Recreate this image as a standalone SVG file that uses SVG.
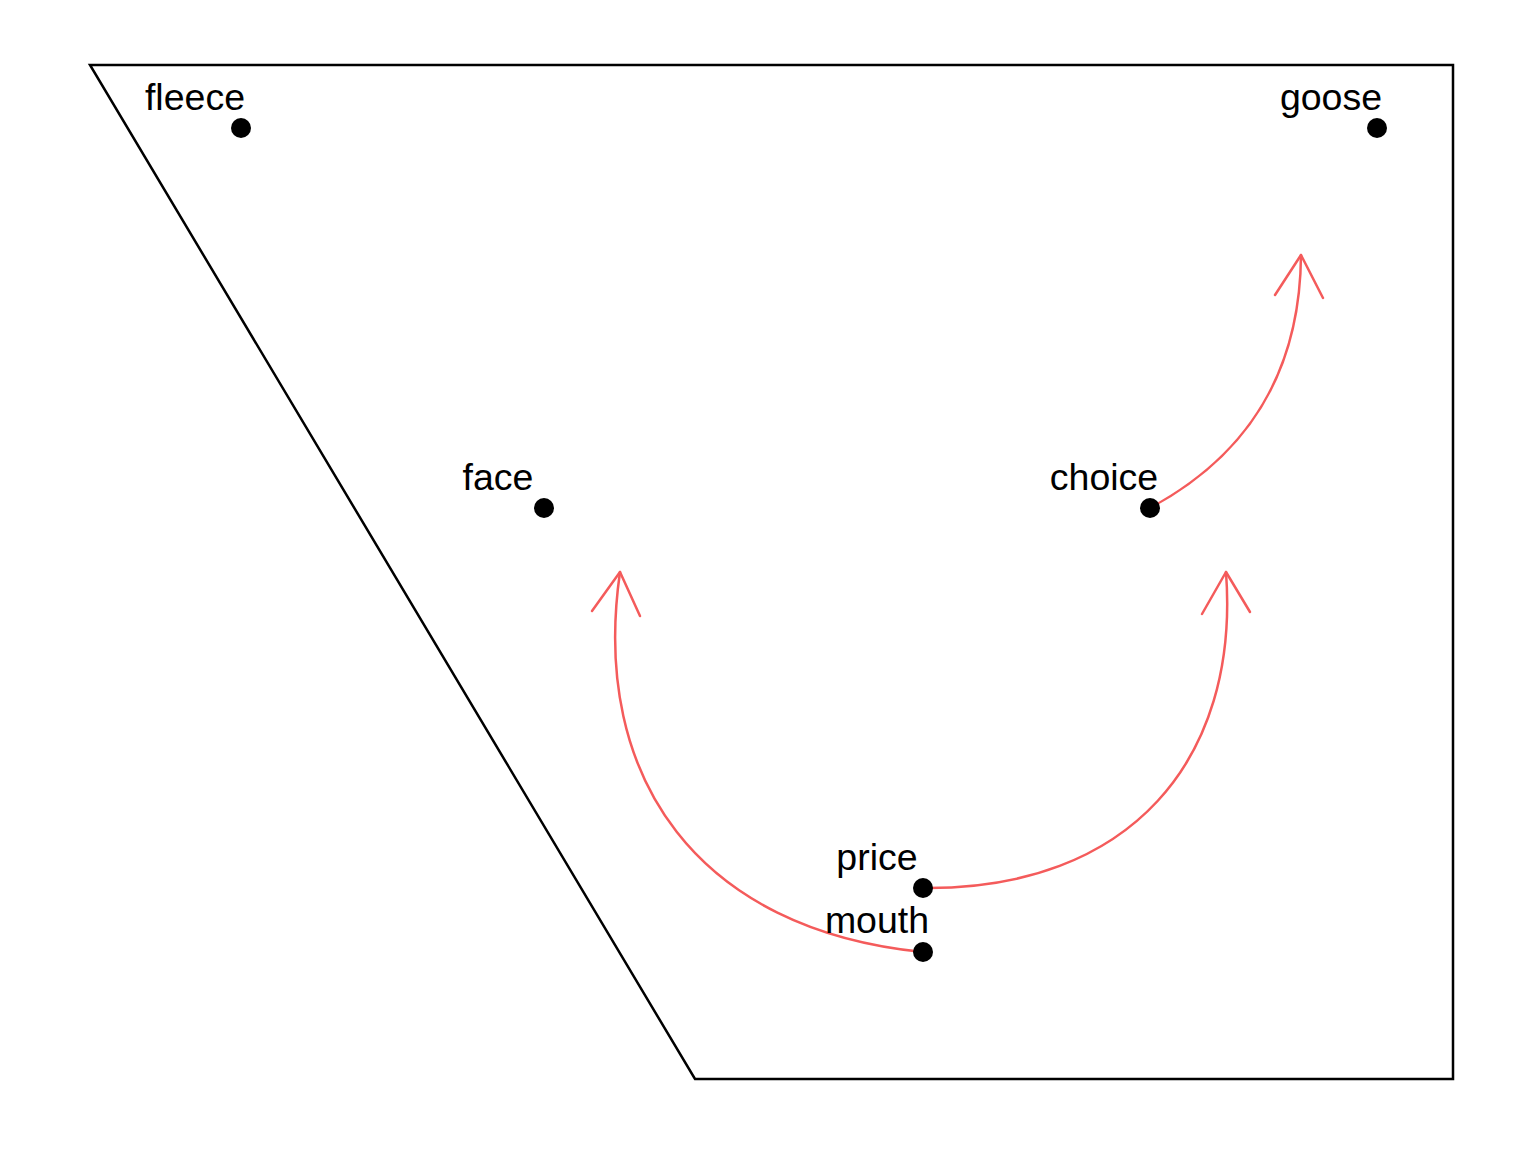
<svg xmlns="http://www.w3.org/2000/svg" width="1536" height="1152" viewBox="0 0 1536 1152">
<style>
.lbl{font-family:"Liberation Sans",Arial,sans-serif;font-size:37.5px;fill:#000;text-anchor:middle}
.edge{fill:none;stroke:#F45B5B;stroke-width:2.5;stroke-linecap:round;stroke-linejoin:round}
.pt{fill:#000}
</style>
<rect width="1536" height="1152" fill="#fff"/>
<path d="M90,65 L1453,65 L1453,1079 L695,1079 Z" fill="none" stroke="#000" stroke-width="2.5"/>
<g id="connectors">
<path class="edge" d="M923,952 C700,930 590,780 620,572"/>
<path class="edge" d="M592,611 L620,572 L640,616"/>
<path class="edge" d="M923,888 C1130,890 1240,760 1226,572"/>
<path class="edge" d="M1202,614 L1226,572 L1250,612"/>
<path class="edge" d="M1150,508 C1230,465 1300,390 1301,255"/>
<path class="edge" d="M1275,295 L1301,255 L1323,298"/>
</g>
<g id="fleece"><circle class="pt" cx="241" cy="128" r="10"/><text class="lbl" x="195" y="110">fleece</text></g>
<g id="goose"><circle class="pt" cx="1377" cy="128" r="10"/><text class="lbl" x="1331" y="110">goose</text></g>
<g id="face"><circle class="pt" cx="544" cy="508" r="10"/><text class="lbl" x="498" y="490">face</text></g>
<g id="choice"><circle class="pt" cx="1150" cy="508" r="10"/><text class="lbl" x="1104" y="490">choice</text></g>
<g id="price"><circle class="pt" cx="923" cy="888" r="10"/><text class="lbl" x="877" y="870">price</text></g>
<g id="mouth"><circle class="pt" cx="923" cy="952" r="10"/><text class="lbl" x="877" y="933">mouth</text></g>
</svg>
